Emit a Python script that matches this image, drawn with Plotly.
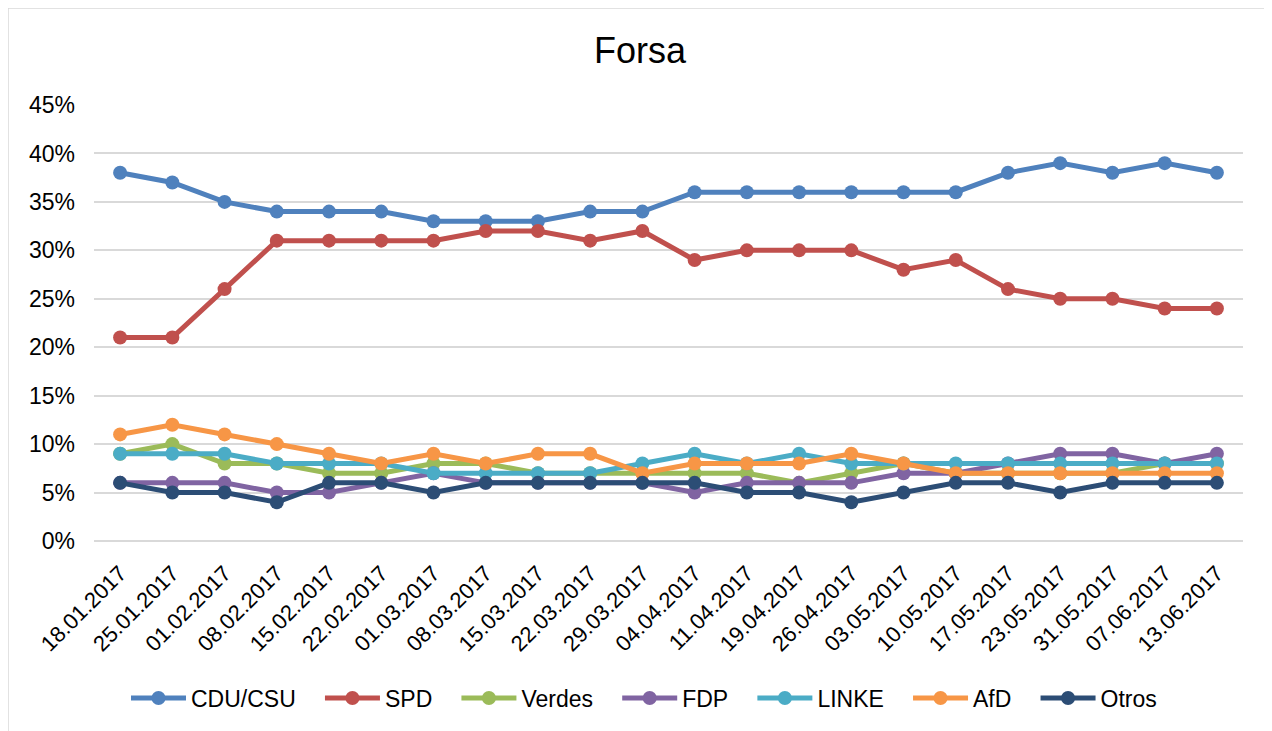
import plotly.graph_objects as go

fechas = ["18.01.2017", "25.01.2017", "01.02.2017", "08.02.2017", "15.02.2017",
          "22.02.2017", "01.03.2017", "08.03.2017", "15.03.2017", "22.03.2017",
          "29.03.2017", "04.04.2017", "11.04.2017", "19.04.2017", "26.04.2017",
          "03.05.2017", "10.05.2017", "17.05.2017", "23.05.2017", "31.05.2017",
          "07.06.2017", "13.06.2017"]

cdu_csu = [38, 37, 35, 34, 34, 34, 33, 33, 33, 34, 34, 36, 36, 36, 36, 36, 36, 38, 39, 38, 39, 38]
spd = [21, 21, 26, 31, 31, 31, 31, 32, 32, 31, 32, 29, 30, 30, 30, 28, 29, 26, 25, 25, 24, 24]
verdes = [9, 10, 8, 8, 7, 7, 8, 8, 7, 7, 7, 7, 7, 6, 7, 8, 7, 7, 7, 7, 8, 8]
fdp = [6, 6, 6, 5, 5, 6, 7, 6, 6, 6, 6, 5, 6, 6, 6, 7, 7, 8, 9, 9, 8, 9]
linke = [9, 9, 9, 8, 8, 8, 7, 7, 7, 7, 8, 9, 8, 9, 8, 8, 8, 8, 8, 8, 8, 8]
afd = [11, 12, 11, 10, 9, 8, 9, 8, 9, 9, 7, 8, 8, 8, 9, 8, 7, 7, 7, 7, 7, 7]
otros = [6, 5, 5, 4, 6, 6, 5, 6, 6, 6, 6, 6, 5, 5, 4, 5, 6, 6, 5, 6, 6, 6]

series = [
    ("CDU/CSU", cdu_csu, "#4F81BD"),
    ("SPD", spd, "#C0504D"),
    ("Verdes", verdes, "#9BBB59"),
    ("FDP", fdp, "#8064A2"),
    ("LINKE", linke, "#4BACC6"),
    ("AfD", afd, "#F79646"),
    ("Otros", otros, "#2C4D75"),
]

FONT = "Liberation Sans, Arial, sans-serif"
PAD = "\u00a0" * 3

fig = go.Figure()
for i, (name, vals, color) in enumerate(series):
    label = name + (PAD if i < len(series) - 1 else "")
    fig.add_trace(go.Scatter(
        x=fechas, y=[v / 100 for v in vals], name=label, mode="lines+markers",
        line=dict(color=color, width=5),
        marker=dict(color=color, size=14),
        hovertemplate=name + ": %{y:.0%}<extra></extra>",
    ))

# page is offset by 8px body margin; work in target px then subtract
OFF = 8
W, H = 1272 - OFF, 731 - OFF
L, R, T, B = 94 - OFF, 1243 - OFF, 105 - OFF, 541 - OFF
pw, ph = R - L, B - T

def px(x):
    return (x - OFF - L) / pw

def py(y):
    return (B - (y - OFF)) / ph

fig.add_shape(type="rect", xref="paper", yref="paper",
              x0=px(8), x1=px(1270), y0=py(760), y1=py(8),
              line=dict(color="#D9D9D9", width=1.5), fillcolor="rgba(0,0,0,0)", layer="below")

fig.update_layout(
    width=W, height=H,
    margin=dict(l=L, r=W - R, t=T, b=H - B, autoexpand=False),
    paper_bgcolor="white", plot_bgcolor="white",
    font=dict(family=FONT, size=23, color="black"),
    title=dict(text="Forsa", x=(640 - OFF) / W, xanchor="center", y=1 - (50 - OFF) / H,
               yanchor="middle", font=dict(family=FONT, size=36, color="black")),
    showlegend=True,
    legend=dict(orientation="h", x=(644 - OFF) / W, xanchor="center", xref="container",
                y=py(698), yanchor="middle", font=dict(family=FONT, size=23, color="black"),
                itemwidth=55, tracegroupgap=0),
    xaxis=dict(type="category", tickangle=-45, showgrid=False, showline=False,
               ticks="", ticklabelstandoff=14, tickfont=dict(family=FONT, size=22, color="black"),
               range=[-0.5, len(fechas) - 0.5]),
    yaxis=dict(range=[0, 0.45], dtick=0.05, tickformat=".0%", showgrid=True,
               gridcolor="#D9D9D9", gridwidth=1.5, zeroline=True, zerolinecolor="#D9D9D9",
               zerolinewidth=1.5, showline=False, ticks="", ticklabelstandoff=18,
               tickfont=dict(family=FONT, size=23, color="black")),
)

fig.write_html("out.html")
